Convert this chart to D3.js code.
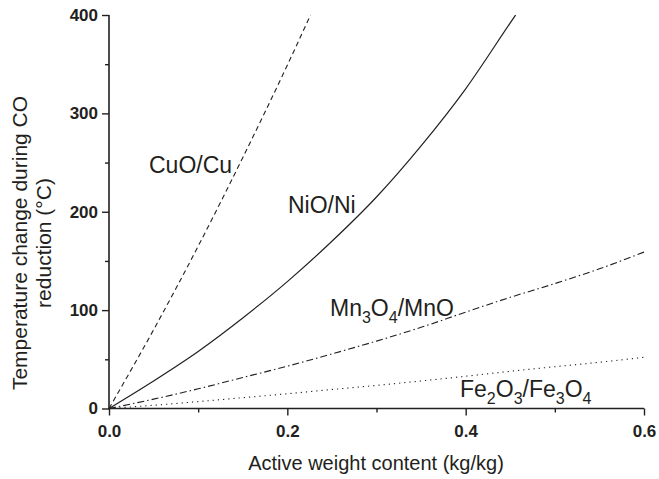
<!DOCTYPE html>
<html><head><meta charset="utf-8">
<script src="https://cdn.jsdelivr.net/npm/d3@7"></script>
<style>body{margin:0;background:#fff}svg{display:block}</style>
</head><body>
<script>
// ---- data ----
const xTicks = [0, 0.2, 0.4, 0.6];
const xTickLabels = ["0.0", "0.2", "0.4", "0.6"];
const xMinor = [0.1, 0.3, 0.5];
const yTicks = [0, 100, 200, 300, 400];
const yTickLabels = ["0", "100", "200", "300", "400"];
const yMinor = [50, 150, 250, 350];

const cuoX = [0, 0.05, 0.1, 0.15, 0.2, 0.226];
const cuoY = [0, 80, 165, 255, 349, 400];
const nioX = [0, 0.05, 0.1, 0.15, 0.2, 0.25, 0.3, 0.35, 0.4, 0.45, 0.456];
const nioY = [0, 28, 58, 92, 129, 170, 215, 267, 325, 392, 400];
const mnX = [0, 0.05, 0.1, 0.15, 0.2, 0.25, 0.3, 0.35, 0.4, 0.45, 0.5, 0.55, 0.6];
const mnY = [0, 9.5, 20, 31.5, 43, 55.5, 68.5, 82.5, 98, 113, 127, 142, 159];
const feX = [0, 0.05, 0.1, 0.15, 0.2, 0.25, 0.3, 0.35, 0.4, 0.45, 0.5, 0.55, 0.6];
const feY = [0, 3.3, 7, 11, 15, 19.3, 23.5, 28, 32.8, 37.8, 42.5, 47, 52];

const W = 659, H = 479;
const svg = d3.select("body").append("svg").attr("width", W).attr("height", H);
const x = d3.scaleLinear().domain([0, 0.6]).range([109, 644]);
const y = d3.scaleLinear().domain([0, 400]).range([408.5, 15]);
const ink = "#231f20";
const font = "Liberation Sans, Arial, sans-serif";

// minor ticks
svg.append("g").attr("class","minor").attr("transform", `translate(0,${y(0)})`)
  .call(d3.axisBottom(x).tickValues(xMinor).tickSize(4).tickFormat(""));
svg.append("g").attr("class","minor").attr("transform", `translate(${x(0)},0)`)
  .call(d3.axisLeft(y).tickValues(yMinor).tickSize(4).tickFormat(""));
svg.selectAll(".minor .domain").remove();

// major axes
const gx = svg.append("g").attr("transform", `translate(0,${y(0)})`)
  .call(d3.axisBottom(x).tickValues(xTicks).tickFormat((d,i)=>xTickLabels[i]).tickSize(7).tickPadding(6));
const gy = svg.append("g").attr("transform", `translate(${x(0)},0)`)
  .call(d3.axisLeft(y).tickValues(yTicks).tickFormat((d,i)=>yTickLabels[i]).tickSize(7).tickPadding(4));
gx.select(".domain").attr("d", `M${x(0)-0.8},0H${x(0.6)}`);
gy.select(".domain").attr("d", `M0,${y(400)}V${y(0)+0.8}`);
svg.selectAll(".domain").attr("stroke", ink).attr("stroke-width", 1.6);
svg.selectAll(".tick line").attr("stroke", ink).attr("stroke-width", 1.4);
svg.selectAll(".tick text").attr("fill", ink).style("font-family", font)
  .style("font-weight", "bold").style("font-size", "17px");
gx.selectAll(".tick text").attr("dy", "0.9em");

// lines
const line = d3.line().x(d=>x(d[0])).y(d=>y(d[1])).curve(d3.curveMonotoneX);
function series(xs, ys){ return xs.map((v,i)=>[v, ys[i]]); }
svg.append("path").datum(series(cuoX, cuoY)).attr("d", line).attr("fill","none")
  .attr("stroke", ink).attr("stroke-width", 1.1).attr("stroke-dasharray", "5,3.5");
svg.append("path").datum(series(nioX, nioY)).attr("d", line).attr("fill","none")
  .attr("stroke", ink).attr("stroke-width", 1.2);
svg.append("path").datum(series(mnX, mnY)).attr("d", line).attr("fill","none")
  .attr("stroke", ink).attr("stroke-width", 1.1).attr("stroke-dasharray", "7,3,1.5,3");
svg.append("path").datum(series(feX, feY)).attr("d", line).attr("fill","none")
  .attr("stroke", ink).attr("stroke-width", 1.1).attr("stroke-dasharray", "1.2,4");

// series labels
function label(parts, px, py){
  const t = svg.append("text").attr("x", px).attr("y", py).attr("fill", ink)
    .style("font-family", font).style("font-size", "23px");
  parts.forEach(p=>{
    if (p.sub) t.append("tspan").text(p.t).style("font-size","16px").attr("dy", 7);
    else t.append("tspan").text(p.t).attr("dy", p.after ? -7 : 0);
  });
}
label([{t:"CuO/Cu"}], 149, 173);
label([{t:"NiO/Ni"}], 288, 213);
label([{t:"Mn"},{t:"3",sub:1},{t:"O",after:1},{t:"4",sub:1},{t:"/MnO",after:1}], 330, 316);
label([{t:"Fe"},{t:"2",sub:1},{t:"O",after:1},{t:"3",sub:1},{t:"/Fe",after:1},{t:"3",sub:1},{t:"O",after:1},{t:"4",sub:1}], 460, 397);

// axis titles
svg.append("text").attr("x", 376).attr("y", 470).attr("text-anchor","middle").attr("fill", ink)
  .style("font-family", font).style("font-size", "20px").text("Active weight content (kg/kg)");
const yt = svg.append("text").attr("transform", "translate(27,243) rotate(-90)").attr("text-anchor","middle")
  .attr("fill", ink).style("font-family", font).style("font-size", "21px");
yt.append("tspan").attr("x", 0).attr("y", 0).text("Temperature change during CO");
yt.append("tspan").attr("x", 0).attr("y", 24).text("reduction (°C)");
</script>
</body></html>
